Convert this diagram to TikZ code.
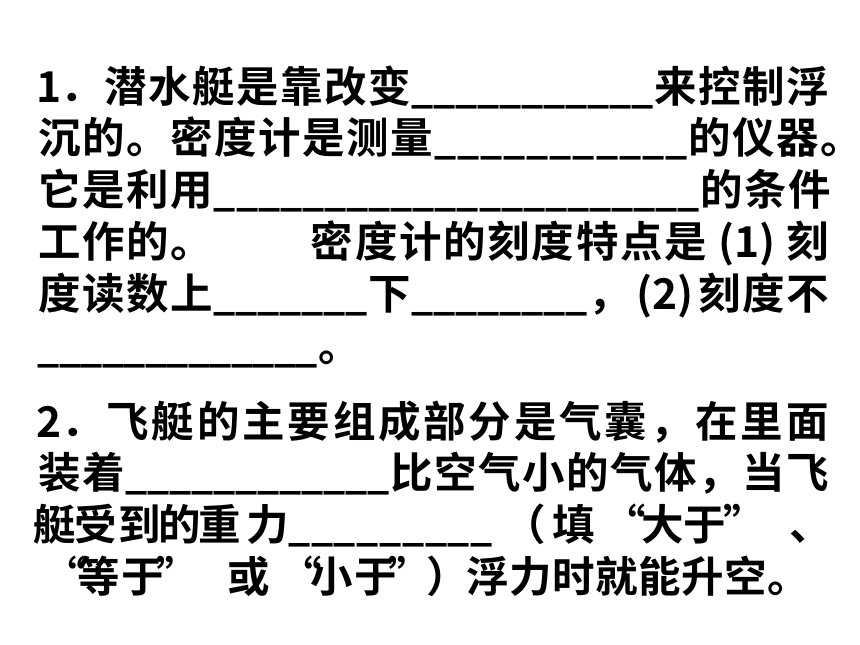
\documentclass[tikz,border=0pt]{standalone}
\usepackage{fontspec}
\usepackage{graphicx}
\newfontfamily\cjk{Noto Sans CJK SC}[UprightFont=* Bold]
\ExplSyntaxOn
\NewDocumentCommand\cells{mm}{\tl_map_inline:nn{#2}{\makebox[#1]{##1}}}
\NewDocumentCommand\us{mm}{\prg_replicate:nn{#1}{\makebox[#2]{\scalebox{0.92}[1]{\_}}}}
\ExplSyntaxOff
\begin{document}
\begin{tikzpicture}[x=1pt,y=-1pt,
  txt/.style={inner sep=0pt,outer sep=0pt,font=\cjk\fontsize{42.5pt}{50pt}\selectfont,text=black},
  lw/.style={txt,anchor=base west},
  lc/.style={txt,anchor=base}]
\useasboundingbox[fill=white] (0,0) rectangle (860,645);
% question 1
\node[lw] (l1) at (38,102) {\cells{22pt}{1}\cells{44pt}{．潜水艇是靠改变}\us{11}{22pt}\cells{44pt}{来控制浮}};
\node[lw] (l2) at (38,153.8) {\cells{44pt}{沉的。密度计是测量}\us{11}{23.09pt}\cells{44pt}{的仪器。}};
\node[lw] (l3) at (38,205.6) {\cells{44pt}{它是利用}\us{22}{22.09pt}\cells{44pt}{的条件}};
\node[lw] (l4) at (38,257.4) {\cells{44pt}{工作的。}\hspace*{96pt}\cells{44.2pt}{密度计的刻度特点是}\makebox[78pt]{(1)}\cells{44pt}{刻}};
\node[lw] (l5) at (38,309.2) {\cells{44pt}{度读数上}\us{7}{22pt}\cells{44pt}{下}\us{8}{22pt}\cells{44pt}{，}\makebox[66pt]{(2)}\cells{44pt}{刻度不}};
\node[lw] (l6) at (38,361) {\us{13}{21.5pt}\cells{44pt}{。}};
% question 2
\node[lw] (l7) at (38,437) {\cells{22pt}{2}\cells{45.29pt}{．飞艇的主要组成部分是气囊，在里面}};
\node[lw] (l8) at (38,488.8) {\cells{44pt}{装着}\us{12}{22pt}\cells{44pt}{比空气小的气体，当飞}};
\foreach \x/\c [count=\i] in {55/艇,96/受,140/到,180/的,219.5/重,267.5/力,573.5/填,625/“,663/大,705/于,745/”}
  \node[lc] (l9c\i) at (\x,540.6) {\c};
\node[lw] (l9u) at (288,540.6) {\us{9}{22.8pt}};
\node[lw] (l9p) at (503,540.6) {（};
\node[lw] (l9d) at (789,540.6) {、};
\foreach \x/\c [count=\i] in {65/“,98.5/等,142.5/于,177.5/”,248.5/或,301/“,331.5/小,376/于,410/”}
  \node[lc] (l10c\i) at (\x,592.4) {\c};
\node[lw] (l10p) at (426,592.4) {）};
\node[lw] (l10r) at (466.5,592.4) {\cells{43pt}{浮力时就能升空。}};
\end{tikzpicture}
\end{document}
